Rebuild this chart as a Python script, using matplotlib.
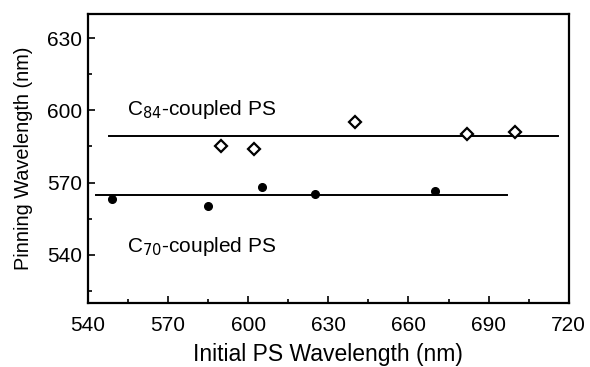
import matplotlib.pyplot as plt
from matplotlib.ticker import MultipleLocator

plt.rcParams['font.family'] = ['Liberation Sans', 'DejaVu Sans']

# C84-coupled PS (open diamonds)
c84_x = [590, 602, 640, 682, 700]
c84_y = [585, 584, 595, 590, 591]
c84_level = 589.3
c84_span = [548, 716]

# C70-coupled PS (filled circles)
c70_x = [549, 585, 605, 625, 670]
c70_y = [563.3, 560.5, 568.2, 565.3, 566.6]
c70_level = 564.9
c70_span = [543, 697]

fig = plt.figure(figsize=(5.9, 3.67), dpi=100)
ax = fig.add_axes([0.149, 0.174, 0.815, 0.788])

ax.plot(c84_span, [c84_level, c84_level], 'k-', lw=1.4)
ax.plot(c70_span, [c70_level, c70_level], 'k-', lw=1.4)
ax.plot(c84_x, c84_y, 'D', mfc='white', mec='black', mew=1.6, ms=6.5, ls='none')
ax.plot(c70_x, c70_y, 'o', color='black', ms=5.5, ls='none')

ax.text(554.6, 597.9, r'C$_{84}$-coupled PS', fontsize=15, va='baseline', ha='left')
ax.text(554.6, 541.4, r'C$_{70}$-coupled PS', fontsize=15, va='baseline', ha='left')

ax.set_xlim(540, 720)
ax.set_ylim(520, 640)
ax.xaxis.set_major_locator(MultipleLocator(30))
ax.xaxis.set_minor_locator(MultipleLocator(15))
ax.yaxis.set_major_locator(MultipleLocator(30))
ax.yaxis.set_minor_locator(MultipleLocator(15))
ax.tick_params(which='both', direction='in', labelsize=15, width=1.2)
ax.tick_params(which='major', length=5)
ax.tick_params(which='minor', length=3)
ax.tick_params(axis='x', pad=9)
ax.tick_params(axis='y', pad=4)
for s in ax.spines.values():
    s.set_linewidth(1.6)

ax.set_xlabel('Initial PS Wavelength (nm)', fontsize=16.5, labelpad=6)
ax.set_ylabel('Pinning Wavelength (nm)', fontsize=14.3, labelpad=10)

fig.savefig('out.png', dpi=100)
